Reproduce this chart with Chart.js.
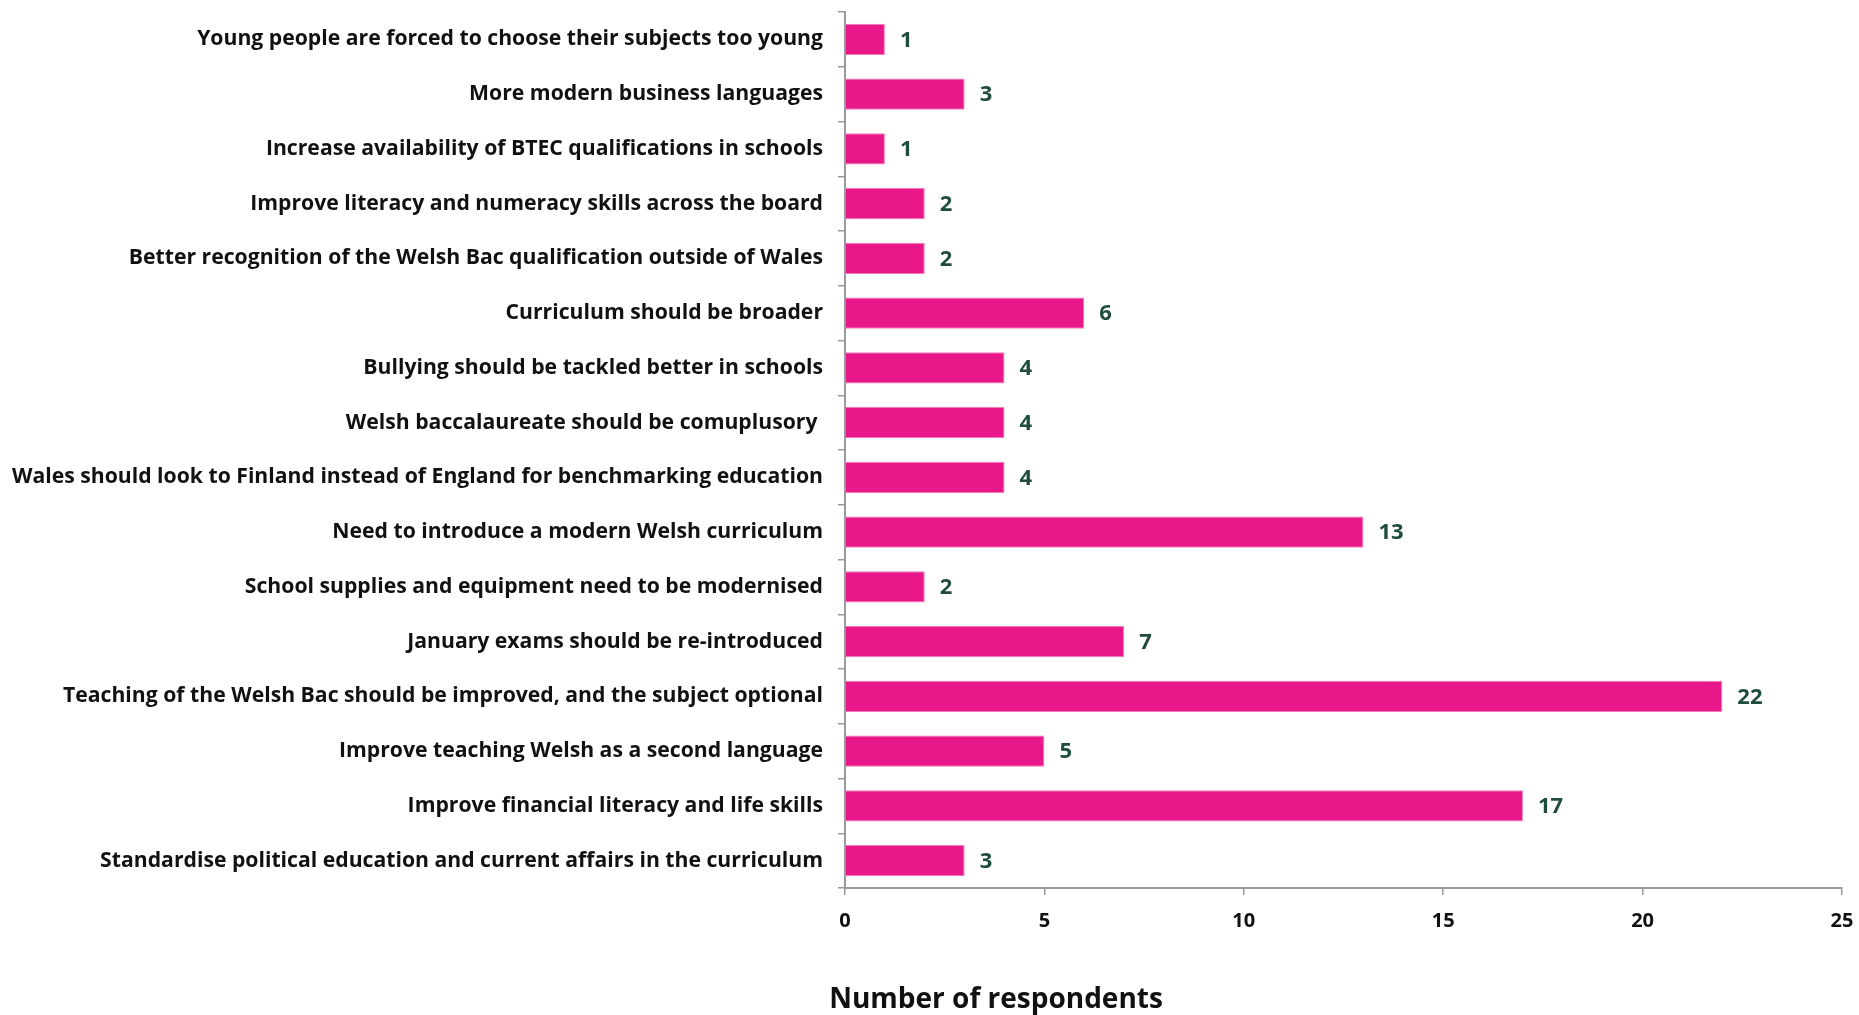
<!DOCTYPE html>
<html>
<head>
<meta charset="utf-8">
<script src="https://cdn.jsdelivr.net/npm/chart.js@4"></script>
<style>
  html, body { margin: 0; padding: 0; background: #ffffff; }
  #wrap { width: 1859px; height: 1015px; position: relative; }
</style>
</head>
<body>
<div id="wrap"><canvas id="c"></canvas></div>
<script>
const categories = [
  "Young people are forced to choose their subjects too young",
  "More modern business languages",
  "Increase availability of BTEC qualifications in schools",
  "Improve literacy and numeracy skills across the board",
  "Better recognition of the Welsh Bac qualification outside of Wales",
  "Curriculum should be broader",
  "Bullying should be tackled better in schools",
  "Welsh baccalaureate should be comuplusory ",
  "Wales should look to Finland instead of England for benchmarking education",
  "Need to introduce a modern Welsh curriculum",
  "School supplies and equipment need to be modernised",
  "January exams should be re-introduced",
  "Teaching of the Welsh Bac should be improved, and the subject optional",
  "Improve teaching Welsh as a second language",
  "Improve financial literacy and life skills",
  "Standardise political education and current affairs in the curriculum"
];
const respondents = [1, 3, 1, 2, 2, 6, 4, 4, 4, 13, 2, 7, 22, 5, 17, 3];
const xTicks = [0, 5, 10, 15, 20, 25];
const axisTitle = "Number of respondents";

const FONT = "'Open Sans', 'Liberation Sans', sans-serif";

const valueLabels = {
  id: 'valueLabels',
  afterDatasetsDraw(chart) {
    const ctx = chart.ctx;
    const meta = chart.getDatasetMeta(0);
    ctx.save();
    ctx.font = "bold 22px " + FONT;
    ctx.fillStyle = '#1f4c3f';
    ctx.textAlign = 'left';
    ctx.textBaseline = 'middle';
    meta.data.forEach((bar, i) => {
      ctx.fillText(String(respondents[i]), bar.x + 15, bar.y + 1);
    });
    ctx.restore();
  }
};

const bottomTitle = {
  id: 'bottomTitle',
  afterDraw(chart) {
    const ctx = chart.ctx;
    ctx.save();
    ctx.font = "bold 28px " + FONT;
    ctx.fillStyle = '#111111';
    ctx.textAlign = 'center';
    ctx.textBaseline = 'middle';
    ctx.fillText(axisTitle, chart.chartArea.left + 151, chart.height - 15);
    ctx.restore();
  }
};

new Chart(document.getElementById('c'), {
  type: 'bar',
  data: {
    labels: categories,
    datasets: [{
      data: respondents,
      backgroundColor: '#e8178a',
      borderColor: '#f07ab8',
      borderWidth: 1,
      barPercentage: 0.57,
      categoryPercentage: 1.0
    }]
  },
  options: {
    indexAxis: 'y',
    responsive: true,
    maintainAspectRatio: false,
    animation: false,
    devicePixelRatio: 1,
    layout: { padding: { left: 0, right: 17, top: 12, bottom: 0 } },
    plugins: {
      legend: { display: false },
      tooltip: { enabled: false }
    },
    scales: {
      x: {
        min: 0,
        max: 25,
        afterBuildTicks(scale) { scale.ticks = xTicks.map(v => ({ value: v })); },
        afterFit(scale) { scale.height = 127; scale.paddingLeft = 0; scale.paddingRight = 0; },
        grid: {
          drawOnChartArea: false,
          drawTicks: true,
          tickLength: 7,
          color: '#9a9a9a',
          lineWidth: 1.5
        },
        border: { display: true, color: '#9a9a9a', width: 2 },
        ticks: {
          color: '#111111',
          padding: 14,
          font: { family: FONT, size: 20, weight: 'bold' }
        }
      },
      y: {
        afterFit(scale) { scale.width = 845; scale.paddingTop = 0; scale.paddingBottom = 0; },
        grid: {
          offset: true,
          drawOnChartArea: false,
          drawTicks: true,
          tickLength: 7,
          color: '#9a9a9a',
          lineWidth: 1.5
        },
        border: { display: true, color: '#9a9a9a', width: 2 },
        ticks: {
          color: '#111111',
          padding: 15,
          autoSkip: false,
          font: { family: FONT, size: 21.2, weight: 'bold' }
        }
      }
    }
  },
  plugins: [valueLabels, bottomTitle]
});
</script>
</body>
</html>
